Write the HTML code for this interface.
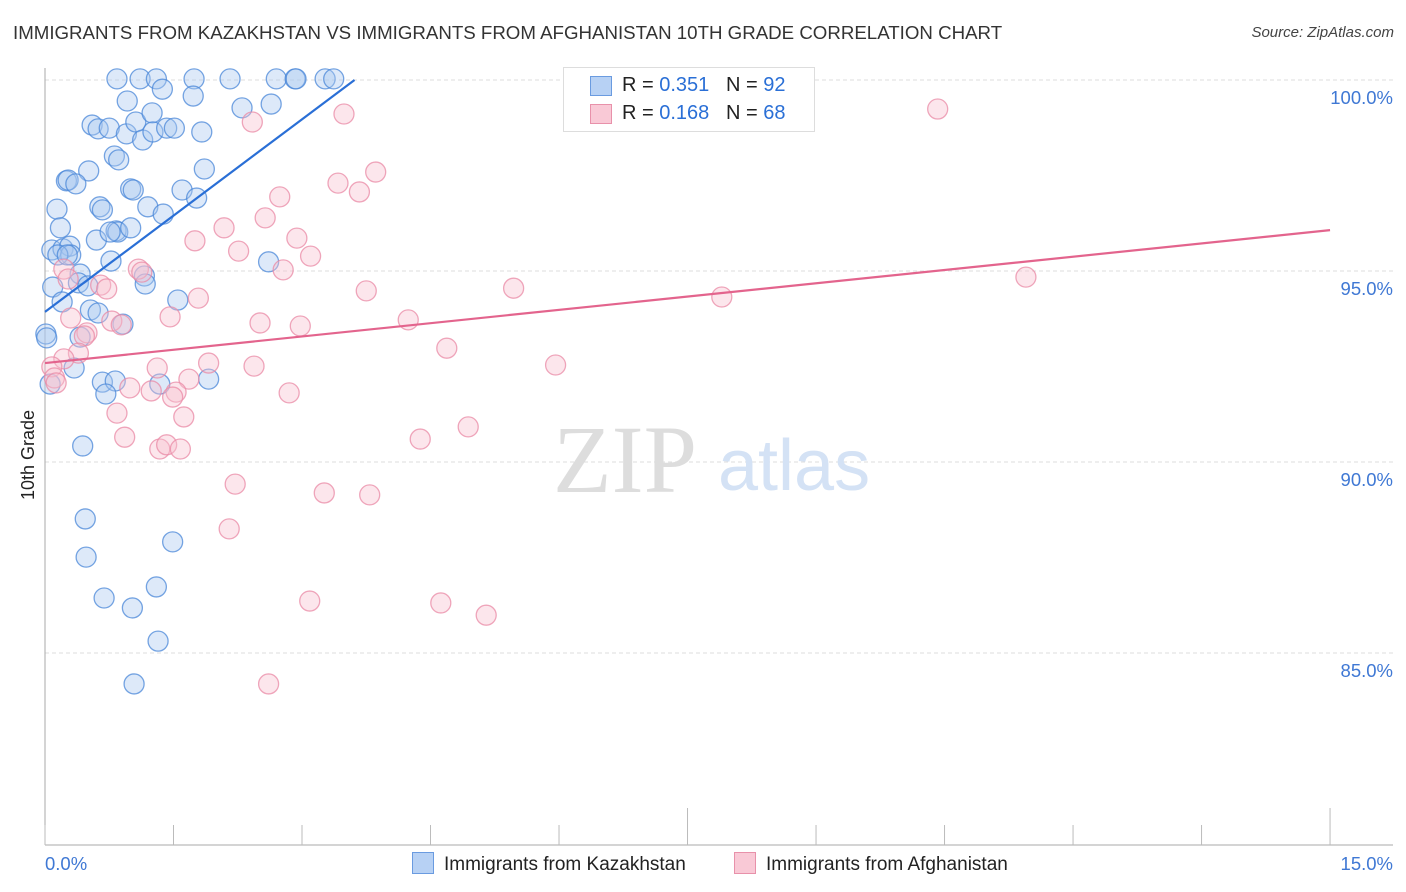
<!DOCTYPE html>
<html><head><meta charset="utf-8">
<style>
body{margin:0;background:#fff;font-family:"Liberation Sans",sans-serif;}
#wrap{position:relative;width:1406px;height:892px;overflow:hidden;}
.t{position:absolute;white-space:nowrap;}
</style></head>
<body>
<div id="wrap">
<div class="t" style="left:13px;top:22px;font-size:18.7px;color:#333;">IMMIGRANTS FROM KAZAKHSTAN VS IMMIGRANTS FROM AFGHANISTAN 10TH GRADE CORRELATION CHART</div>
<div class="t" style="right:12px;top:24px;font-size:15px;color:#444;font-style:italic;">Source: ZipAtlas.com</div>
<svg id="svg" width="1406" height="892" style="position:absolute;left:0;top:0"></svg>
</div>
<script>
const yTicks=[100,95,90,85];
const yTickLabels=["100.0%","95.0%","90.0%","85.0%"];
const xTickLabels=["0.0%","15.0%"];
const kazX=[0.84,1.11,1.30,1.74,2.16,2.70,2.92,2.93,3.27,3.37,0.96,1.37,1.73,2.30,2.64,0.55,0.62,0.75,0.95,1.06,1.14,1.25,1.26,1.42,1.51,1.83,0.81,0.86,1.00,1.03,1.60,1.77,1.86,0.51,0.25,0.27,0.36,0.14,0.64,0.67,0.83,0.85,1.00,1.20,1.38,0.18,0.08,0.21,0.29,0.60,0.76,0.30,0.15,0.26,0.77,2.61,1.16,0.09,0.20,0.41,0.39,0.50,0.53,0.62,1.17,1.55,0.91,0.01,0.02,0.41,0.34,0.06,0.67,0.82,0.71,1.34,1.91,0.44,0.47,0.48,1.49,0.69,1.02,1.30,1.32,1.04];
const kazY=[100.03,100.03,100.03,100.03,100.03,100.03,100.03,100.03,100.03,100.03,99.45,99.76,99.58,99.27,99.37,98.82,98.72,98.74,98.59,98.90,98.43,99.14,98.64,98.74,98.74,98.64,98.01,97.91,97.15,97.12,97.12,96.91,97.67,97.62,97.36,97.38,97.28,96.62,96.68,96.60,96.05,96.02,96.13,96.68,96.49,96.13,95.55,95.58,95.65,95.81,96.02,95.42,95.42,95.42,95.26,95.24,94.87,94.58,94.19,94.92,94.69,94.61,93.98,93.90,94.66,94.24,93.61,93.35,93.25,93.27,92.46,92.04,92.09,92.12,91.78,92.04,92.17,90.42,88.51,87.51,87.91,86.44,86.18,86.73,85.31,84.19];
const afgX=[6.83,2.42,10.42,3.49,3.86,3.42,3.67,2.74,2.09,2.57,1.75,2.26,2.94,3.10,2.78,11.45,5.47,3.75,7.90,1.09,1.13,1.79,0.22,0.27,0.65,0.72,1.46,0.78,0.89,2.51,2.98,4.24,0.30,0.49,0.46,4.69,5.96,1.91,2.44,1.31,0.39,0.22,0.08,0.11,0.13,1.68,0.99,1.24,1.53,1.49,0.84,1.62,2.85,0.93,1.34,1.42,1.58,4.38,4.94,2.22,3.26,3.79,2.15,3.09,4.62,5.15,2.61];
const afgY=[100.03,98.90,99.24,99.11,97.59,97.30,97.07,96.94,96.13,96.39,95.79,95.52,95.86,95.39,95.03,94.84,94.55,94.48,94.32,95.05,94.97,94.29,95.05,94.79,94.63,94.53,93.80,93.69,93.59,93.64,93.56,93.72,93.77,93.38,93.30,92.98,92.54,92.59,92.51,92.46,92.85,92.70,92.49,92.20,92.07,92.17,91.94,91.86,91.83,91.70,91.28,91.18,91.81,90.65,90.34,90.45,90.34,90.60,90.92,89.42,89.19,89.14,88.25,86.36,86.31,85.99,84.19];
const kazTrend=[93.93,1.68];
const afgTrend=[92.59,0.232];
const xs=v=>45+v*85.67, ys=v=>80+(100-v)*38.2;
const NS="http://www.w3.org/2000/svg", svg=document.getElementById('svg');
function mk(tag,at,parent){const e=document.createElementNS(NS,tag);for(const k in at)e.setAttribute(k,at[k]);(parent||svg).appendChild(e);return e;}
yTicks.forEach((v,i)=>{
 const g=mk('line',{x1:45,x2:1393,y1:ys(v),y2:ys(v),stroke:'#ddd','stroke-dasharray':'4,3'});
 
 
 const t=mk('text',{x:1393,y:ys(v)+24,'text-anchor':'end','font-size':18.5,fill:'#3f78d4','font-family':'Liberation Sans'});
 t.textContent=yTickLabels[i];
 
 
});
const w1=mk('text',{x:553,y:492,'font-size':96,fill:'#ddd','font-family':'Liberation Serif'});w1.textContent='ZIP';


const w2=mk('text',{x:718,y:490,'font-size':72,fill:'#d4e2f5','font-family':'Liberation Sans'});w2.textContent='atlas';


mk('line',{x1:45,x2:45,y1:68,y2:845,stroke:'#aaa'});
mk('line',{x1:45,x2:1393,y1:845,y2:845,stroke:'#aaa'});
for(let i=0;i<=10;i++){const x=xs(i*1.5);mk('line',{x1:x,x2:x,y1:(i==5||i==10)?808:825,y2:845,stroke:'#bbb'});}
[[0,'start'],[15,'end']].forEach((a,i)=>{const t=mk('text',{x:i?1393:45,y:870,'text-anchor':a[1],'font-size':18.5,fill:'#3f78d4','font-family':'Liberation Sans'});t.textContent=xTickLabels[i];

});
const yt=mk('text',{x:34,y:455,'text-anchor':'middle','font-size':18,fill:'#222',transform:'rotate(-90 34 455)','font-family':'Liberation Sans'});yt.textContent='10th Grade';


function pts(X,Y,fill,stroke,name){X.forEach((x,i)=>{const c=mk('circle',{cx:xs(x),cy:ys(Y[i]),r:10,fill:fill,'fill-opacity':0.4,stroke:stroke,'stroke-width':1.3,'stroke-opacity':0.75});

});}
pts(kazX,kazY,'#a9c8f0','#4a87d8','kazakhstan-point');
pts(afgX,afgY,'#f8c0d0','#e98aa6','afghanistan-point');
const kx2=(100-kazTrend[0])/kazTrend[1];
const l1=mk('line',{x1:xs(0),y1:ys(kazTrend[0]),x2:xs(kx2),y2:ys(100),stroke:'#2a6fd6','stroke-width':2.2});


const l2=mk('line',{x1:xs(0),y1:ys(afgTrend[0]),x2:xs(15),y2:ys(afgTrend[0]+afgTrend[1]*15),stroke:'#e3648d','stroke-width':2.2});


</script>
<div class="t" style="left:563px;top:67px;width:250px;height:63px;border:1px solid #ddd;background:#fff;font-size:20px;color:#222;">
 <div style="position:absolute;left:26px;top:8px;width:20px;height:18px;background:#b7d1f4;border:1px solid #6a9be0;"></div>
 <div style="position:absolute;left:58px;top:6px;">R = <span style="color:#2a6fd6">0.351</span>&nbsp;&nbsp;&nbsp;N = <span style="color:#2a6fd6">92</span></div>
 <div style="position:absolute;left:26px;top:36px;width:20px;height:18px;background:#f9c9d6;border:1px solid #e891aa;"></div>
 <div style="position:absolute;left:58px;top:34px;">R = <span style="color:#2a6fd6">0.168</span>&nbsp;&nbsp;&nbsp;N = <span style="color:#2a6fd6">68</span></div>
</div>
<div class="t" style="left:412px;top:852px;font-size:19px;color:#222;"><span style="display:inline-block;width:20px;height:20px;background:#b7d1f4;border:1px solid #6a9be0;vertical-align:-4px;margin-right:10px"></span>Immigrants from Kazakhstan</div>
<div class="t" style="left:734px;top:852px;font-size:19px;color:#222;"><span style="display:inline-block;width:20px;height:20px;background:#f9c9d6;border:1px solid #e891aa;vertical-align:-4px;margin-right:10px"></span>Immigrants from Afghanistan</div>
</body></html>
